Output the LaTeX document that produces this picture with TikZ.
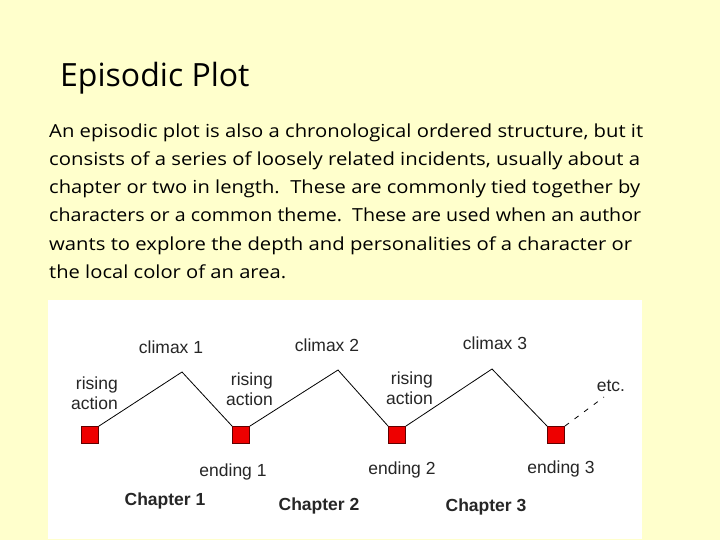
\documentclass[tikz,border=0pt]{standalone}
\usepackage{fontspec}
\setmainfont{Open Sans}
\newfontfamily\arialf{Liberation Sans}
\definecolor{bgyellow}{HTML}{FFFFCC}
\definecolor{boxred}{HTML}{EE0000}
\definecolor{boxedge}{HTML}{600000}
\begin{document}
\begin{tikzpicture}[x=1pt,y=-1pt,
  lbl/.style={font=\arialf\fontsize{17.5}{20}\selectfont, inner sep=0pt, text=black!85},
  chap/.style={font=\arialf\bfseries\fontsize{17.5}{20}\selectfont, inner sep=0pt, text=black!85},
  sq/.style={draw=boxedge, fill=boxred, minimum size=17pt, inner sep=0pt, line width=0.8pt},
  plotline/.style={line width=0.8pt, black},
  body/.style={font=\fontsize{18}{28}\selectfont, anchor=base west, inner sep=0pt}]
\fill[bgyellow] (0,0) rectangle (720,540);
\useasboundingbox (0,0) rectangle (720,540);
% title
\node[font=\fontsize{32}{36}\selectfont, anchor=base west, inner sep=0pt] (title) at (60,87) {Episodic Plot};
% body text
\node[body] (l1) at (49,138) {\resizebox{594pt}{\height}{An episodic plot is also a chronological ordered structure, but it}};
\node[body] (l2) at (49,166) {\resizebox{591pt}{\height}{consists of a series of loosely related incidents, usually about a}};
\node[body] (l3) at (49,194) {\resizebox{591pt}{\height}{chapter or two in length.\ \ These are commonly tied together by}};
\node[body] (l4) at (49,222) {\resizebox{592pt}{\height}{characters or a common theme.\ \ These are used when an author}};
\node[body] (l5) at (49,250) {\resizebox{583pt}{\height}{wants to explore the depth and personalities of a character or}};
\node[body] (l6) at (49,278) {\resizebox{237pt}{\height}{the local color of an area.}};
% white panel
\fill[white] (48,300) rectangle (642,539);
% squares
\node[sq] (s1) at (90,435) {};
\node[sq] (s2) at (241,435) {};
\node[sq] (s3) at (397,435) {};
\node[sq] (s4) at (556,435) {};
\coordinate (p1) at (182,372);
\coordinate (p2) at (338,370);
\coordinate (p3) at (492,369);
\coordinate (etcend) at (604,397);
\draw[plotline] (s1.north east) -- (p1) -- (s2.north west);
\draw[plotline] (s2.north east) -- (p2) -- (s3.north west);
\draw[plotline] (s3.north east) -- (p3) -- (s4.north west);
\draw[plotline, dash pattern=on 5pt off 7pt] (s4.north east) -- (etcend);
% labels
\node[lbl, align=right, anchor=east] (r1) at (118,393) {rising\\action};
\node[lbl, align=right, anchor=east] (r2) at (273,389) {rising\\action};
\node[lbl, align=right, anchor=east] (r3) at (433,388) {rising\\action};
\node[lbl] (c1) at (171,347) {climax 1};
\node[lbl] (c2) at (327,345) {climax 2};
\node[lbl] (c3) at (495,343) {climax 3};
\node[lbl] (etc) at (611,386) {etc.};
\node[lbl] (e1) at (233,472) {ending 1};
\node[lbl] (e2) at (402,470) {ending 2};
\node[lbl] (e3) at (561,469) {ending 3};
\node[chap] (ch1) at (165,501) {Chapter 1};
\node[chap] (ch2) at (319,506) {Chapter 2};
\node[chap] (ch3) at (486,507) {Chapter 3};
\end{tikzpicture}
\end{document}
